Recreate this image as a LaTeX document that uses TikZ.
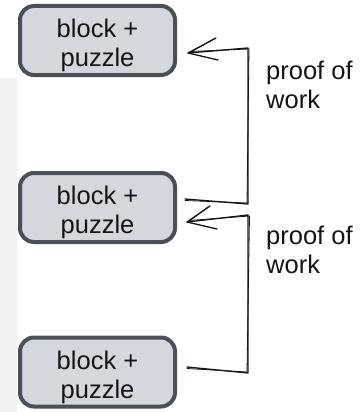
\documentclass[tikz,border=0pt]{standalone}
\usepackage{fontspec}
\setmainfont{Liberation Sans}
\definecolor{boxfill}{RGB}{212,215,222}
\definecolor{boxline}{RGB}{74,79,87}
\definecolor{panel}{RGB}{242,242,242}
\definecolor{ink}{RGB}{20,20,20}
% two-line box caption, set a little below the box centre
\newcommand{\boxcaption}[2]{\raisebox{-6pt}[\height][\depth]{\begin{tabular}{@{}c@{}}#1\\#2\end{tabular}}}
\tikzset{
  blockbox/.style={draw=boxline, fill=boxfill, line width=4pt, rounded corners=14pt,
    minimum width=155pt, minimum height=69pt, inner sep=0pt,
    text=ink, font=\fontsize{25.5}{29}\selectfont},
  lbl/.style={anchor=base west, inner sep=0pt, align=left, text=ink,
    font=\fontsize{25.5}{28.5}\selectfont},
  sketch/.style={draw=ink, line width=1.3pt, line cap=round, line join=round},
  sketchthin/.style={draw=ink, line width=0.8pt, line cap=round, line join=round},
}
\begin{document}
\begin{tikzpicture}[x=1pt, y=-1pt]
  \useasboundingbox (0,0) rectangle (359,412);
  \fill[white] (0,0) rectangle (359,412);
  % side panel
  \fill[panel] (0,78) rectangle (17,412);

  % blocks
  \node[blockbox] (b1) at (97.5,40.5) {\boxcaption{block +}{puzzle}};
  \node[blockbox] (b2) at (97.5,207.5) {\boxcaption{block +}{puzzle}};
  \node[blockbox] (b3) at (97.5,372) {\boxcaption{block +}{puzzle}};

  % connector b2 -> b1
  \coordinate (s1) at ([xshift=8pt,yshift=8.5pt]b2.east);
  \coordinate (t1) at ([xshift=11pt,yshift=-12.5pt]b1.east);
  \coordinate (c1a) at (248,204);
  \coordinate (c1b) at (248,48);
  \coordinate (h1a) at (216,38);
  \coordinate (h1b) at (218,60);
  \draw[sketch] (s1) -- (c1a) -- (c1b) -- (t1);
  \draw[sketchthin] ([yshift=-1.5pt]s1) -- ([xshift=-1pt,yshift=1pt]c1a)
    -- ([xshift=1pt,yshift=-1pt]c1b) -- ([xshift=2pt,yshift=1.5pt]t1);
  \draw[sketch] (h1a) -- (t1) -- (h1b);
  \draw[sketchthin] ([xshift=-2pt,yshift=-1pt]h1a) -- ([xshift=1pt]t1);

  % connector b3 -> b2
  \coordinate (s2) at ([xshift=10pt,yshift=5pt]b3.east);
  \coordinate (t2) at ([xshift=10pt,yshift=-14.5pt]b2.east);
  \coordinate (c2a) at (248,373);
  \coordinate (c2b) at (248,215);
  \coordinate (h2a) at (210,206);
  \coordinate (h2b) at (217,229);
  \draw[sketch] (s2) -- (c2a) -- (c2b) -- (t2);
  \draw[sketchthin] ([yshift=-1.5pt]s2) -- ([xshift=-1pt,yshift=1pt]c2a)
    -- ([xshift=1.5pt,yshift=-1pt]c2b) -- ([xshift=2pt,yshift=1.5pt]t2);
  \draw[sketch] (h2a) -- (t2) -- (h2b);
  \draw[sketchthin] ([xshift=-2pt,yshift=-1pt]h2a) -- ([xshift=1pt]t2);

  % labels
  \node[lbl] (l1) at (266,108) {proof of\\work};
  \node[lbl] (l2) at (266,273) {proof of\\work};
\end{tikzpicture}
\end{document}
